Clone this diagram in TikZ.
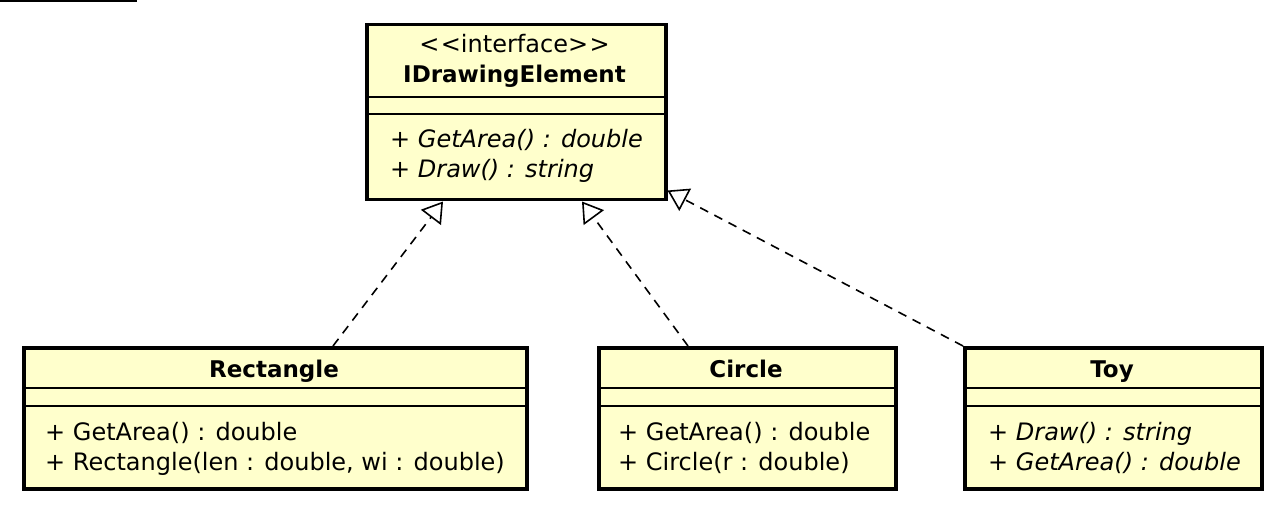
\documentclass[tikz,border=0pt]{standalone}
\usepackage{fontspec}
\setmainfont{DejaVu Sans}[Ligatures=TeXOff]
\usetikzlibrary{arrows.meta}
\definecolor{boxfill}{RGB}{255,255,204}
\tikzset{
  umlbox/.style={draw=black, fill=boxfill, line width=3.5pt, rectangle, inner sep=0pt, anchor=north west},
  sepline/.style={line width=1.6pt, black},
  txt/.style={inner sep=0pt, anchor=base west, font=\fontsize{24pt}{28pt}\selectfont},
  ttl/.style={inner sep=0pt, anchor=base, font=\fontsize{23pt}{28pt}\selectfont\bfseries},
  stereo/.style={inner sep=0pt, anchor=base, font=\fontsize{24pt}{28pt}\selectfont},
  realize/.style={line width=1.6pt, dash pattern=on 9pt off 7pt, -{Triangle[open, length=20pt, width=25pt, line width=1.6pt]}, shorten >=0pt}
}
\begin{document}
\begin{tikzpicture}[x=1pt, y=-1pt]
\useasboundingbox (0,0) rectangle (1284,510);
\fill[white] (0,0) rectangle (1284,510);
% cropped frame edge at top-left
\draw[line width=2.5pt] (0,1) -- (137,1);

% interface box
\node[umlbox, minimum width=299pt, minimum height=175pt] (iface) at (365,23) {};
\draw[sepline] ([yshift=-74pt]iface.north west) -- ([yshift=-74pt]iface.north east);
\draw[sepline] ([yshift=-91pt]iface.north west) -- ([yshift=-91pt]iface.north east);
\node[stereo] (istereo) at (514.5,53) {<\kern1.5pt<interface>\kern1.5pt>};
\node[ttl] (iname) at (514.5,83) {IDrawingElement};
\node[txt] (im1) at (390,148) {\itshape + GetArea() : double};
\node[txt] (im2) at (390,178) {\itshape + Draw() : string};

% Rectangle
\node[umlbox, minimum width=503pt, minimum height=141pt] (rect) at (22,346) {};
\draw[sepline] ([yshift=-42pt]rect.north west) -- ([yshift=-42pt]rect.north east);
\draw[sepline] ([yshift=-60pt]rect.north west) -- ([yshift=-60pt]rect.north east);
\node[ttl] (rname) at (274,377) {Rectangle};
\node[txt] (rm1) at (45,440) {+ GetArea() : double};
\node[txt] (rm2) at (45,470) {+ Rectangle(len : double, wi : double)};

% Circle
\node[umlbox, minimum width=297pt, minimum height=141pt] (circ) at (597,346) {};
\draw[sepline] ([yshift=-42pt]circ.north west) -- ([yshift=-42pt]circ.north east);
\draw[sepline] ([yshift=-60pt]circ.north west) -- ([yshift=-60pt]circ.north east);
\node[ttl] (cname) at (746,377) {Circle};
\node[txt] (cm1) at (618,440) {+ GetArea() : double};
\node[txt] (cm2) at (618,470) {+ Circle(r : double)};

% Toy
\node[umlbox, minimum width=297pt, minimum height=141pt] (toy) at (963,346) {};
\draw[sepline] ([yshift=-42pt]toy.north west) -- ([yshift=-42pt]toy.north east);
\draw[sepline] ([yshift=-60pt]toy.north west) -- ([yshift=-60pt]toy.north east);
\node[ttl] (tname) at (1112,377) {Toy};
\node[txt] (tm1) at (988,440) {\itshape + Draw() : string};
\node[txt] (tm2) at (988,470) {\itshape + GetArea() : double};

% realizations
\draw[realize] ([xshift=311pt]rect.north west) -- ([xshift=78pt]iface.south west);
\draw[realize] ([xshift=91pt]circ.north west) -- ([xshift=217pt]iface.south west);
\draw[realize] (toy.north west) -- ([yshift=11pt]iface.south east);
\end{tikzpicture}
\end{document}
